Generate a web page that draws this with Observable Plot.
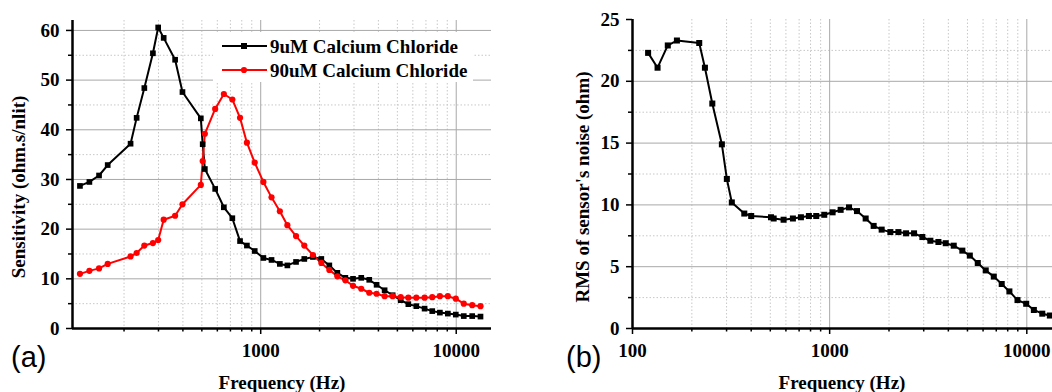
<!DOCTYPE html>
<html><head><meta charset="utf-8">
<script src="https://cdn.jsdelivr.net/npm/d3@7"></script>
<script src="https://cdn.jsdelivr.net/npm/@observablehq/plot@0.6"></script>
<style>
body{margin:0;background:#fff;}
#wrap{position:relative;width:1052px;height:392px;overflow:hidden;background:#fff;}
#wrap > svg{position:absolute;top:0;}
</style></head><body><div id="wrap"></div>
<script>
// ---- Panel (a): sensitivity vs frequency ----
const freqA = [119,133,149,165,216,232,254,281,299,319,365,398,494,505,518,585,648,716,784,850,932,1032,1136,1253,1369,1516,1671,1850,2042,2244,2466,2710,2966,3268,3590,3915,4303,4730,5200,5690,6250,6890,7540,8250,9060,9950,10930,12070,13310];
const sens9 = [28.7,29.5,30.8,32.9,37.2,42.4,48.4,55.4,60.6,58.5,54.1,47.6,42.3,37.1,32.1,28.1,24.4,22.2,17.6,16.7,15.6,14.2,13.8,13.0,12.7,13.4,14.0,14.4,14.0,12.7,11.2,10.2,10.0,10.2,9.8,8.8,7.7,6.7,5.7,4.9,4.5,4.0,3.5,3.2,3.0,2.8,2.5,2.5,2.4];
const sens90 = [11.0,11.6,12.1,13.0,14.5,15.2,16.7,17.2,17.8,21.9,22.7,25.0,28.9,33.7,39.2,44.2,47.2,46.1,42.4,37.4,33.4,29.5,26.4,23.6,20.8,18.6,16.7,14.8,13.2,11.8,10.5,9.7,8.6,8.0,7.2,7.0,6.5,6.5,6.3,6.2,6.2,6.2,6.3,6.5,6.5,6.0,5.0,4.7,4.5];
const seriesNames = ["9uM Calcium Chloride", "90uM Calcium Chloride"];
const seriesColors = ["#000000", "#ff0000"];

// ---- Panel (b): RMS noise vs frequency ----
const freqB = [120,134,151,168,218,233,254,284,301,319,369,400,504,520,584,651,715,785,855,939,1035,1137,1254,1376,1523,1672,1836,2032,2232,2441,2680,2953,3242,3562,3880,4260,4710,5140,5640,6190,6800,7460,8160,8970,9930,10860,11980,13090];
const noise = [22.3,21.1,22.9,23.3,23.1,21.1,18.2,14.9,12.1,10.2,9.3,9.1,9.0,8.9,8.8,8.9,9.0,9.1,9.1,9.2,9.4,9.6,9.8,9.5,8.9,8.3,8.0,7.8,7.8,7.7,7.7,7.4,7.1,7.0,6.9,6.7,6.3,5.9,5.3,4.7,4.2,3.6,3.0,2.3,2.0,1.5,1.2,1.05];

// ---- ticks & labels ----
const xMinorTicks = [200,300,400,500,600,700,800,900,2000,3000,4000,5000,6000,7000,8000,9000];
const xMajorA = [1000, 10000];
const xLabelsA = ["1000", "10000"];
const yMajorA = [0,10,20,30,40,50,60];
const yLabelsA = ["0","10","20","30","40","50","60"];
const yMinorA = [5,15,25,35,45,55];
const xMajorB = [100, 1000, 10000];
const xLabelsB = ["100", "1000", "10000"];
const yMajorB = [0,5,10,15,20,25];
const yLabelsB = ["0","5","10","15","20","25"];
const yMinorB = [2.5,7.5,12.5,17.5,22.5];

const titles = {
  xA: "Frequency (Hz)", yA: "Sensitivity (ohm.s/nlit)",
  xB: "Frequency (Hz)", yB: "RMS of sensor's noise (ohm)",
  a: "(a)", b: "(b)"
};

const serif = "'Liberation Serif','Times New Roman',serif";
const sans = "'Liberation Sans',Arial,sans-serif";
const baseStyle = {fontFamily: serif, fontSize: "19px", fontWeight: "bold", color: "#000", background: "transparent", overflow: "visible"};

const xDomA = [109, 15150];
const xDomB = [100, 13500];

function gridAndAxes(xDom, yMajor, yLabels, yMinor, xMajor, xLabels) {
  const xMin = xMinorTicks.filter(d => d > xDom[0] && d < xDom[1]);
  return [
    Plot.gridY(yMinor, {stroke: "#c8c8c8", strokeOpacity: 1, strokeDasharray: "1.5,2"}),
    Plot.gridX(xMin, {stroke: "#c8c8c8", strokeOpacity: 1, strokeDasharray: "1.5,2"}),
    Plot.gridY(yMajor.filter(d => d > 0 && d < 25 || (d > 25)), {stroke: "#a8a8a8", strokeOpacity: 1}),
    Plot.gridX(xMajor.filter(d => d > xDom[0]), {stroke: "#a8a8a8", strokeOpacity: 1}),
    Plot.axisX(xMin, {tickSize: 3.5, tickFormat: () => "", strokeWidth: 1.5, label: null}),
    Plot.axisX(xMajor, {tickSize: 6, tickPadding: 9, strokeWidth: 1.5, label: null,
      tickFormat: d => xLabels[xMajor.indexOf(d)]}),
    Plot.axisY(yMinor, {tickSize: 4, tickFormat: () => "", strokeWidth: 1.5, label: null}),
    Plot.axisY(yMajor, {tickSize: 6, tickPadding: 7, strokeWidth: 1.5, label: null,
      tickFormat: d => yLabels[yMajor.indexOf(d)]}),
    Plot.ruleY([0], {stroke: "#000", strokeWidth: 2.5}),
    Plot.ruleX([xDom[0]], {stroke: "#000", strokeWidth: 2.5})
  ];
}

const rowsA = freqA.flatMap((f, i) => [
  {f, v: sens9[i], s: seriesNames[0]},
  {f, v: sens90[i], s: seriesNames[1]}
]);

const left = Plot.plot({
  width: 520, height: 392,
  marginLeft: 72, marginRight: 29, marginTop: 20, marginBottom: 64,
  style: baseStyle,
  x: {type: "log", domain: xDomA, label: null},
  y: {domain: [0, 62], label: null},
  color: {domain: seriesNames, range: seriesColors},
  marks: [
    ...gridAndAxes(xDomA, yMajorA, yLabelsA, yMinorA, xMajorA, xLabelsA),
    Plot.line(rowsA, {x: "f", y: "v", stroke: "s", z: "s", strokeWidth: 2}),
    Plot.dot(rowsA.filter(d => d.s === seriesNames[0]), {x: "f", y: "v", fill: "s", symbol: "square", r: 3.2, stroke: null}),
    Plot.dot(rowsA.filter(d => d.s === seriesNames[1]), {x: "f", y: "v", fill: "s", symbol: "circle", r: 3.1, stroke: null})
  ]
});
left.style.left = "0px";

const rowsB = freqB.map((f, i) => ({f, v: noise[i]}));
const right = Plot.plot({
  width: 522, height: 392,
  marginLeft: 102, marginRight: 0, marginTop: 19, marginBottom: 64,
  style: baseStyle,
  x: {type: "log", domain: xDomB, label: null},
  y: {domain: [0, 25], label: null},
  marks: [
    ...gridAndAxes(xDomB, yMajorB, yLabelsB, yMinorB, xMajorB, xLabelsB),
    Plot.line(rowsB, {x: "f", y: "v", stroke: "#000", strokeWidth: 2}),
    Plot.dot(rowsB, {x: "f", y: "v", fill: "#000", symbol: "square", r: 3.4, stroke: null})
  ]
});
right.style.left = "530px";

const wrap = document.getElementById("wrap");
wrap.appendChild(left);
wrap.appendChild(right);

// ---- overlay: titles, panel letters, legend ----
const ov = d3.select(wrap).append("svg")
  .attr("width", 1052).attr("height", 392)
  .style("left", "0px").style("pointer-events", "none");

function t(x, y, s, opts = {}) {
  const el = ov.append("text").attr("x", x).attr("y", y).text(s)
    .attr("font-family", opts.family || serif)
    .attr("font-size", opts.size || 19)
    .attr("font-weight", opts.weight || "bold")
    .attr("fill", "#000")
    .attr("text-anchor", opts.anchor || "start");
  if (opts.rotate) el.attr("transform", `rotate(-90 ${x} ${y})`);
  return el;
}
t(282, 389, titles.xA, {anchor: "middle"});
t(842, 389, titles.xB, {anchor: "middle"});
t(25, 187, titles.yA, {anchor: "middle", rotate: true});
t(589, 187, titles.yB, {anchor: "middle", rotate: true});
t(11, 367, titles.a, {family: sans, size: 29, weight: "normal"});
t(566, 367, titles.b, {family: sans, size: 29, weight: "normal"});

// legend
const lg = ov.append("g");
lg.append("rect").attr("x", 213).attr("y", 32).attr("width", 260).attr("height", 50).attr("fill", "#fff");
seriesNames.forEach((name, i) => {
  const cy = 46 + i * 24;
  lg.append("line").attr("x1", 222).attr("x2", 267).attr("y1", cy).attr("y2", cy)
    .attr("stroke", seriesColors[i]).attr("stroke-width", 2);
  if (i === 0) lg.append("rect").attr("x", 244 - 3).attr("y", cy - 3).attr("width", 6).attr("height", 6).attr("fill", seriesColors[i]);
  else lg.append("circle").attr("cx", 244).attr("cy", cy).attr("r", 3.1).attr("fill", seriesColors[i]);
  lg.append("text").attr("x", 270).attr("y", cy + 6.5).text(name)
    .attr("font-family", serif).attr("font-size", 19).attr("font-weight", "bold").attr("fill", "#000");
});
</script></body></html>
